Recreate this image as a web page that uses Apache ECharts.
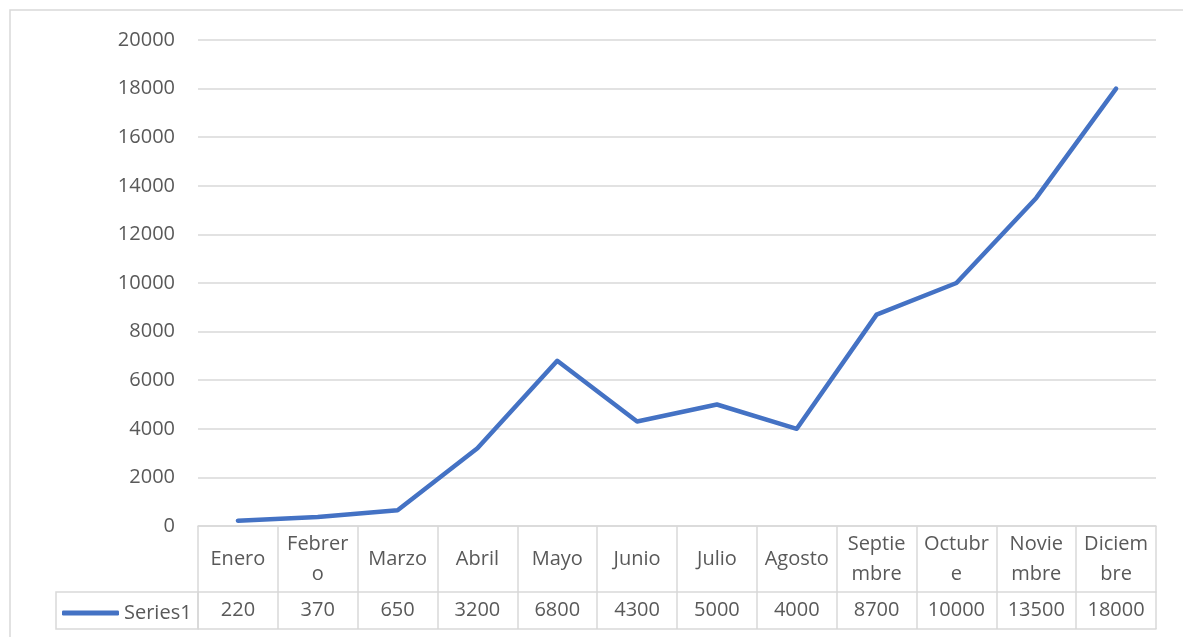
<!DOCTYPE html>
<html>
<head>
<meta charset="utf-8">
<script src="https://cdn.jsdelivr.net/npm/echarts@6/dist/echarts.min.js"></script>
<style>
  html, body { margin: 0; padding: 0; background: #fff; }
  #chart { width: 1183px; height: 637px; }
</style>
</head>
<body>
<div id="chart"></div>
<script>
// datos del gráfico
const meses = ['Enero', 'Febrer\no', 'Marzo', 'Abril', 'Mayo', 'Junio', 'Julio', 'Agosto', 'Septie\nmbre', 'Octubr\ne', 'Novie\nmbre', 'Diciem\nbre']
const series1 = [220, 370, 650, 3200, 6800, 4300, 5000, 4000, 8700, 10000, 13500, 18000]
const yTicks = { min: 0, max: 20000, interval: 2000 }

const textColor = '#595959'
const lineGrey = '#d9d9d9'
const font = '"Open Sans", "Liberation Sans", sans-serif'

const chart = echarts.init(document.getElementById('chart'))

const option = {
  animation: false,
  grid: { left: 198, right: 27, top: 40, bottom: 111 },
  legend: {
    data: ['Series1'],
    left: 57,
    top: 598,
    icon: 'roundRect',
    itemWidth: 57,
    itemHeight: 5,
    textStyle: { color: textColor, fontSize: 20, fontFamily: font }
  },
  xAxis: [
    {
      type: 'category',
      data: meses,
      boundaryGap: true,
      axisLine: { lineStyle: { color: lineGrey, width: 1.5 } },
      axisTick: { show: true, length: 66, lineStyle: { color: lineGrey, width: 1.5 } },
      axisLabel: {
        interval: 0,
        margin: 33,
        verticalAlign: 'middle',
        lineHeight: 30,
        color: textColor,
        fontSize: 20,
        fontFamily: font
      }
    },
    {
      type: 'category',
      data: series1.map(v => String(v)),
      position: 'bottom',
      offset: 66,
      boundaryGap: true,
      axisLine: { lineStyle: { color: lineGrey, width: 1.5 } },
      axisTick: { show: true, length: 37, lineStyle: { color: lineGrey, width: 1.5 } },
      axisLabel: {
        interval: 0,
        margin: 18,
        verticalAlign: 'middle',
        color: textColor,
        fontSize: 20,
        fontFamily: font
      }
    },
    {
      type: 'category',
      data: meses,
      position: 'bottom',
      offset: 103,
      axisLine: { lineStyle: { color: lineGrey, width: 1.5 } },
      axisTick: { show: false },
      axisLabel: { show: false }
    }
  ],
  yAxis: {
    type: 'value',
    min: yTicks.min,
    max: yTicks.max,
    interval: yTicks.interval,
    axisLine: { show: false },
    axisTick: { show: false },
    splitLine: { lineStyle: { color: lineGrey, width: 1.5 } },
    axisLabel: {
      margin: 23,
      color: textColor,
      fontSize: 20,
      fontFamily: font,
      formatter: v => String(v)
    }
  },
  graphic: [
    // borde del gráfico
    {
      type: 'rect',
      shape: { x: 10, y: 10, width: 1250, height: 700 },
      style: { fill: 'none', stroke: lineGrey, lineWidth: 1.5 },
      silent: true
    },
    // celda de la leyenda en la tabla
    {
      type: 'rect',
      shape: { x: 56, y: 592, width: 142, height: 37 },
      style: { fill: 'none', stroke: lineGrey, lineWidth: 1.5 },
      silent: true
    }
  ],
  series: [
    {
      name: 'Series1',
      type: 'line',
      data: series1,
      symbol: 'none',
      lineStyle: { color: '#4472c4', width: 4.5, cap: 'round', join: 'round' },
      itemStyle: { color: '#4472c4' }
    }
  ]
}

chart.setOption(option)
</script>
</body>
</html>
